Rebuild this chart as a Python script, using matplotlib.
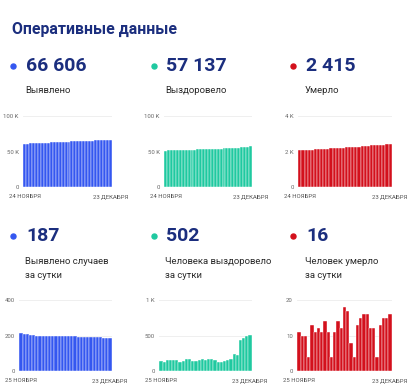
import matplotlib
matplotlib.use("Agg")
import matplotlib.pyplot as plt
from matplotlib.lines import Line2D

# ---------------- data ----------------
dates_top = ["24 НОЯБРЯ", "23 ДЕКАБРЯ"]
dates_bottom = ["25 НОЯБРЯ", "23 ДЕКАБРЯ"]

total_cases = [60909, 61122, 61332, 61540, 61744, 61945, 62144, 62342, 62539, 62736,
               62933, 63131, 63330, 63530, 63728, 63925, 64121, 64316, 64511, 64705,
               64898, 65091, 65283, 65474, 65664, 65854, 66043, 66231, 66419, 66606]
total_recovered = [51325, 51465, 51590, 51740, 51895, 52045, 52195, 52315, 52460, 52630,
                   52800, 52940, 53075, 53225, 53395, 53555, 53730, 53895, 54055, 54185,
                   54310, 54455, 54610, 54785, 55030, 55255, 55685, 56145, 56635, 57137]
total_deaths = [2073, 2084, 2094, 2104, 2108, 2121, 2132, 2144, 2155, 2169,
                2180, 2184, 2195, 2209, 2221, 2239, 2256, 2264, 2268, 2281,
                2296, 2312, 2328, 2340, 2352, 2356, 2369, 2384, 2399, 2415]

daily_cases = [213, 210, 208, 204, 201, 199, 198, 197, 197, 197, 198, 199, 200, 198, 197,
               196, 195, 195, 194, 193, 193, 192, 191, 190, 190, 189, 188, 188, 187]
daily_recovered = [140, 125, 150, 155, 150, 150, 120, 145, 170, 170, 140, 135, 150, 170, 160,
                   175, 165, 160, 130, 125, 145, 155, 175, 245, 225, 430, 460, 490, 502]
daily_deaths = [11, 10, 10, 4, 13, 11, 12, 11, 14, 11, 4, 11, 14, 12, 18,
                17, 8, 4, 13, 15, 16, 16, 12, 12, 4, 13, 15, 15, 16]

headline_values = ["66 606", "57 137", "2 415", "187", "502", "16"]
headline_labels = ["Выявлено", "Выздоровело", "Умерло",
                   "Выявлено случаев\nза сутки", "Человека выздоровело\nза сутки",
                   "Человек умерло\nза сутки"]
y_ticks = [[0, 50000, 100000], [0, 50000, 100000], [0, 2000, 4000],
           [0, 200, 400], [0, 500, 1000], [0, 10, 20]]
y_ticklabels = [["0", "50 K", "100 K"], ["0", "50 K", "100 K"], ["0", "2 K", "4 K"],
                ["0", "200", "400"], ["0", "500", "1 K"], ["0", "10", "20"]]
title = "Оперативные данные"

# ---------------- style ----------------
W, H = 418, 390
NAVY = "#1b2e7e"
BLUE = "#3457f0"
TEAL = "#1fc9a0"
RED = "#d3101c"
colors = [BLUE, TEAL, RED, BLUE, TEAL, RED]

fig = plt.figure(figsize=(W / 100, H / 100), dpi=100)
fig.patch.set_facecolor("white")

def fx(x):
    return x / W

def fy(y):
    return 1 - y / H

fig.text(fx(12), fy(29), title, fontsize=11.4, fontweight="bold", color=NAVY,
         family="Roboto", va="center", ha="left")

col_dot_x = [13, 154, 293]
col_num_x = [26, 166, 306]
row_num_y = [66, 236]
row_lab_y = [86, 256]

# axes boxes in pixels: (left, right)
axes_x = [(23, 112), (164, 252), (298, 392), (19, 112), (159, 252), (297, 392)]
row_axes_y = [(116, 187), (300, 371)]

series = [total_cases, total_recovered, total_deaths, daily_cases, daily_recovered, daily_deaths]

for i in range(6):
    r, c = divmod(i, 3)
    fig.add_artist(Line2D([fx(col_dot_x[c])], [fy(row_num_y[r])], marker="o", ms=3.6,
                          color=colors[i], transform=fig.transFigure, lw=0))
    fig.text(fx(col_num_x[c]), fy(row_num_y[r]), headline_values[i], fontsize=14,
             fontweight="bold", color=NAVY, family="Roboto", va="center", ha="left")
    fig.text(fx(col_num_x[c] - 1), fy(row_lab_y[r] + (1 if r == 1 else 0)), headline_labels[i],
             fontsize=6.8, color="#2a2a2a", family="Roboto", va="top", ha="left",
             linespacing=1.75)

    x0, x1 = axes_x[i]
    yt, yb = row_axes_y[r]
    ax = fig.add_axes([fx(x0), fy(yb), fx(x1 - x0), (yb - yt) / H])
    vals = series[i]
    n = len(vals)
    ax.bar(range(n), vals, width=1.0, color=colors[i], edgecolor="white",
           linewidth=0.3, zorder=2)
    ax.set_xlim(-0.6, n - 0.4)
    ax.set_ylim(0, y_ticks[i][-1])
    ax.set_yticks(y_ticks[i])
    ax.set_yticklabels(y_ticklabels[i], fontsize=4.3, color="#666666", family="Roboto")
    ax.set_xticks([0, n - 1])
    ax.set_xticklabels(dates_top if r == 0 else dates_bottom, fontsize=4.3,
                       color="#555555", family="Roboto")
    ax.tick_params(axis="y", length=0, pad=3)
    ax.tick_params(axis="x", length=0, pad=5)
    ax.grid(axis="y", color="#ececec", linewidth=0.6, zorder=0)
    for s in ax.spines.values():
        s.set_visible(False)
    ax.set_facecolor("none")

fig.savefig("out.png", dpi=100, facecolor="white")
